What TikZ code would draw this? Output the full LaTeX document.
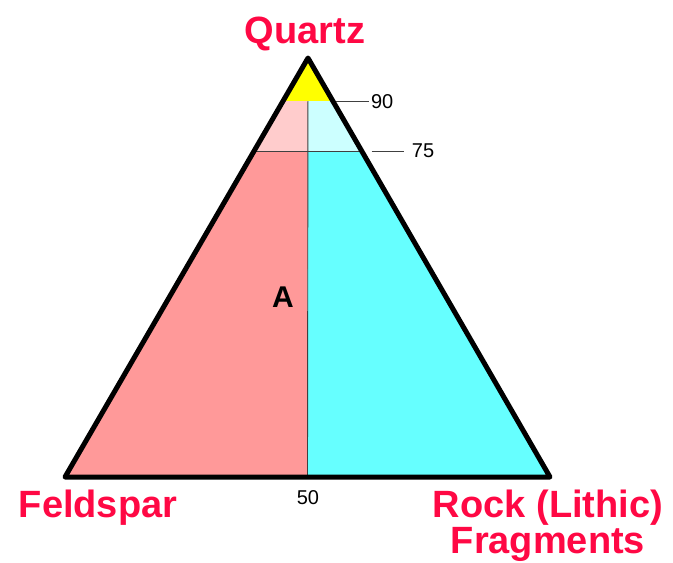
\documentclass[tikz,border=0pt]{standalone}
\usepackage{fontspec}
\setmainfont{Liberation Sans}
\usetikzlibrary{calc}

\definecolor{labelred}{HTML}{FF0844}
\definecolor{qtop}{HTML}{FFFF00}
\definecolor{felds}{HTML}{FF9999}
\definecolor{feldslight}{HTML}{FFCCCC}
\definecolor{lith}{HTML}{66FFFF}
\definecolor{lithlight}{HTML}{CCFFFF}

\begin{document}
\begin{tikzpicture}[x=1pt, y=-1pt,
  corner/.style={text=labelred, font=\bfseries\fontsize{38}{34}\selectfont, align=center, inner sep=1pt},
  ticklabel/.style={font=\fontsize{20}{22}\selectfont, anchor=west, inner sep=2pt},
  divider/.style={draw=black!75, line width=0.9pt},
  edge/.style={draw=black, line width=5pt, line join=round}
  ]
\useasboundingbox (0,0) rectangle (673,563);

% Corners
\coordinate (q) at (308,58);
\coordinate (f) at (65,477);
\coordinate (r) at (550,477);
\coordinate (m) at ($(f)!0.5!(r)$);

% Cut lines
\coordinate (q90l) at ($(q)!0.103!(f)$);
\coordinate (q90r) at ($(q)!0.103!(r)$);
\coordinate (q90m) at ($(q90l)!0.5!(q90r)$);
\coordinate (q75l) at ($(q)!0.222!(f)$);
\coordinate (q75r) at ($(q)!0.222!(r)$);
\coordinate (q75m) at ($(q75l)!0.5!(q75r)$);

% Fields
\fill[qtop] (q) -- (q90l) -- (q90r) -- cycle;
\fill[feldslight] (q90l) -- (q90m) -- (q75m) -- (q75l) -- cycle;
\fill[lithlight] (q90m) -- (q90r) -- (q75r) -- (q75m) -- cycle;
\fill[felds] (q75l) -- (q75m) -- (m) -- (f) -- cycle;
\fill[lith] (q75m) -- (q75r) -- (r) -- (m) -- cycle;

% Field boundaries
\draw[divider] (q75l) -- (q75r);
\draw[divider] (q90m) -- (m);
\draw[edge] (q) -- (f) -- (r) -- cycle;

% Ticks
\coordinate (t90a) at ($(q90r)+(3,0)$);
\coordinate (t90b) at ($(q90r)+(36,0)$);
\coordinate (t75a) at ($(q75r)+(10,0)$);
\coordinate (t75b) at ($(q75r)+(42,0)$);
\draw[divider] (t90a) -- (t90b);
\draw[divider] (t75a) -- (t75b);
\node[ticklabel] (n90) at (t90b) {90};
\node[ticklabel] (n75) at ($(t75b)+(6,0)$) {75};
\node[font=\fontsize{20}{22}\selectfont] (n50) at (308,498) {50};

% Labels
\node[corner, anchor=base] (quartz) at (305,43) {Quartz};
\node[corner, anchor=base] (feldspar) at (98,517) {Feldspar};
\node[corner, anchor=base] (rock) at (548,553) {Rock (Lithic)\\Fragments};
\node[font=\bfseries\fontsize{30}{32}\selectfont] (fieldA) at (283,297) {A};

\end{tikzpicture}
\end{document}
